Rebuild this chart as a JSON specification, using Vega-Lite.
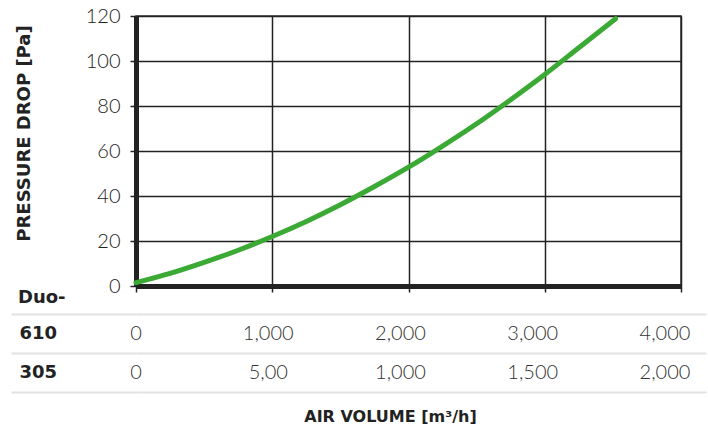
{
  "$schema": "https://vega.github.io/schema/vega-lite/v6.json",
  "padding": {"left": 10, "top": 5, "right": 3, "bottom": 5},
  "background": "white",
  "config": {"font": "Lato", "view": {"stroke": null}, "concat": {"spacing": -8}},
  "datasets": {
    "curve": [
      {"airflow": 0, "pressure": 1.5},
      {"airflow": 250, "pressure": 5.6},
      {"airflow": 500, "pressure": 10.5},
      {"airflow": 750, "pressure": 15.9},
      {"airflow": 1000, "pressure": 22},
      {"airflow": 1250, "pressure": 28.7},
      {"airflow": 1500, "pressure": 36.1},
      {"airflow": 1750, "pressure": 44.2},
      {"airflow": 2000, "pressure": 52.8},
      {"airflow": 2250, "pressure": 62.2},
      {"airflow": 2500, "pressure": 72.1},
      {"airflow": 2750, "pressure": 82.8},
      {"airflow": 3000, "pressure": 94},
      {"airflow": 3250, "pressure": 105.9},
      {"airflow": 3520, "pressure": 118.8}
    ],
    "table": [
      {"row": "610", "col": 0, "label": "0"},
      {"row": "610", "col": 1000, "label": "1,000"},
      {"row": "610", "col": 2000, "label": "2,000"},
      {"row": "610", "col": 3000, "label": "3,000"},
      {"row": "610", "col": 4000, "label": "4,000"},
      {"row": "305", "col": 0, "label": "0"},
      {"row": "305", "col": 1000, "label": "5,00"},
      {"row": "305", "col": 2000, "label": "1,000"},
      {"row": "305", "col": 3000, "label": "1,500"},
      {"row": "305", "col": 4000, "label": "2,000"}
    ]
  },
  "vconcat": [
    {
      "width": 545,
      "height": 270,
      "data": {"name": "curve"},
      "view": {"stroke": "#333", "strokeWidth": 1.5},
      "mark": {"type": "line", "color": "#3aaa35", "strokeWidth": 5, "strokeCap": "round", "interpolate": "monotone"},
      "encoding": {
        "x": {
          "field": "airflow", "type": "quantitative",
          "scale": {"domain": [0, 4000], "nice": false},
          "axis": {
            "values": [0, 1000, 2000, 3000, 4000], "labels": false, "title": null,
            "ticks": true, "tickSize": 6, "tickColor": "#222", "tickWidth": 1.5,
            "grid": true, "gridColor": "#222", "gridWidth": 1.5, "gridOpacity": 1,
            "domain": true, "domainColor": "#222", "domainWidth": 5
          }
        },
        "y": {
          "field": "pressure", "type": "quantitative",
          "scale": {"domain": [0, 120], "nice": false},
          "axis": {
            "values": [0, 20, 40, 60, 80, 100, 120],
            "title": "PRESSURE DROP [Pa]", "titleFont": "DejaVu Sans", "titleFontWeight": "bold",
            "titleFontSize": 18, "titleColor": "#222", "titlePadding": 52, "titleY": 117,
            "labelFont": "Lato", "labelFontSize": 20, "labelFontWeight": 300, "labelColor": "#222", "labelPadding": 10,
            "ticks": true, "tickSize": 6, "tickColor": "#222", "tickWidth": 1.5,
            "grid": true, "gridColor": "#222", "gridWidth": 1.5, "gridOpacity": 1,
            "domain": true, "domainColor": "#222", "domainWidth": 5
          }
        }
      }
    },
    {
      "width": 570,
      "height": 78,
      "data": {"name": "table"},
      "title": {"text": "Duo-", "anchor": "start", "font": "DejaVu Sans", "fontSize": 18, "fontWeight": "bold", "color": "#222", "dx": 8, "offset": -2},
      "mark": {"type": "text", "font": "Lato", "fontSize": 20, "fontWeight": 300, "color": "#333"},
      "encoding": {
        "x": {
          "field": "col", "type": "ordinal",
          "scale": {"type": "point", "padding": 0.155, "align": 0},
          "axis": {"labels": false, "ticks": false, "domain": false, "grid": false,
            "title": "AIR VOLUME [m³/h]", "titleFont": "DejaVu Sans", "titleFontWeight": "bold", "titleFontSize": 16, "titleColor": "#222", "titlePadding": 16, "titleX": 254}
        },
        "y": {
          "field": "row", "type": "nominal", "sort": ["610", "305"],
          "scale": {"type": "band", "paddingInner": 0, "paddingOuter": 0},
          "axis": {"title": null, "tickBand": "extent", "tickSize": 125, "tickColor": "#e2e2e2", "tickWidth": 2,
            "grid": true, "gridColor": "#e2e2e2", "gridWidth": 2, "gridOpacity": 1, "domain": false,
            "labelAlign": "left", "labelPadding": -8, "labelFont": "DejaVu Sans", "labelFontWeight": "bold", "labelFontSize": 18, "labelColor": "#222"}
        },
        "text": {"field": "label"}
      }
    }
  ]
}
